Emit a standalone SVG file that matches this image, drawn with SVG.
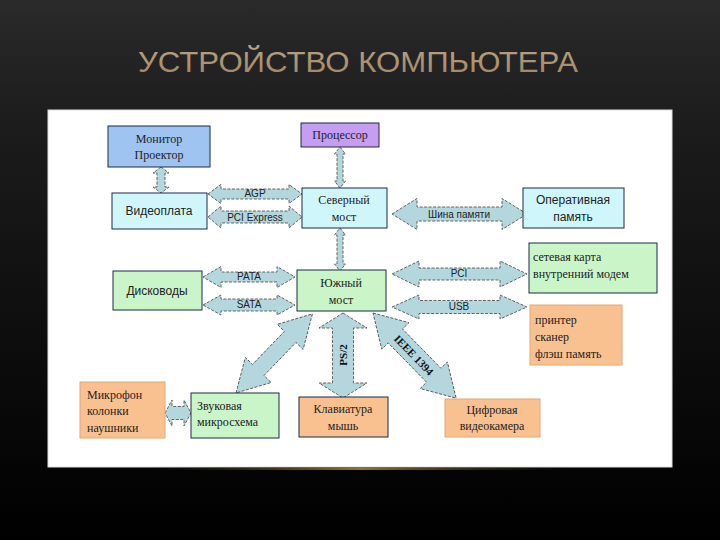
<svg xmlns="http://www.w3.org/2000/svg" width="720" height="540" viewBox="0 0 720 540">
<defs>
<linearGradient id="bg" x1="0" y1="0" x2="0" y2="1">
<stop offset="0" stop-color="#2a2a2a"/>
<stop offset="0.25" stop-color="#1b1b1b"/>
<stop offset="0.85" stop-color="#050505"/>
<stop offset="1" stop-color="#000"/>
</linearGradient>
<linearGradient id="glow" x1="0" y1="0" x2="1" y2="0">
<stop offset="0" stop-color="#3a3320" stop-opacity="0"/>
<stop offset="0.5" stop-color="#8a7430"/>
<stop offset="1" stop-color="#3a3320" stop-opacity="0"/>
</linearGradient>
<linearGradient id="title" x1="0" y1="0" x2="0" y2="1">
<stop offset="0" stop-color="#b9a486"/>
<stop offset="1" stop-color="#a08462"/>
</linearGradient>
</defs>
<style>
.box{stroke:#1d2a44;stroke-width:1}
.blue{fill:#9fc4f2}
.purple{fill:#c59df2}
.cyan{fill:#cff7fb}
.green{fill:#caf5c9}
.orange{fill:#f9c18f}
.soft{stroke:#e0a878}
.t{font-family:"Liberation Serif","DejaVu Serif",serif;font-size:12px;fill:#222}
.s{font-family:"Liberation Sans","DejaVu Sans",sans-serif;font-size:12px;fill:#222}
.arr{fill:#b3d7dd;stroke:#555;stroke-width:0.9;stroke-dasharray:3 1.5}
.al{font-family:"Liberation Sans","DejaVu Sans",sans-serif;font-size:10px;fill:#222;text-anchor:middle}
.bl{font-family:"Liberation Serif","DejaVu Serif",serif;font-size:11px;font-weight:bold;fill:#111;text-anchor:middle}
</style>
<rect width="720" height="540" fill="url(#bg)"/>
<text x="138" y="72" font-family="'Liberation Sans','DejaVu Sans',sans-serif" font-size="29" fill="url(#title)" textLength="440" lengthAdjust="spacingAndGlyphs">УСТРОЙСТВО КОМПЬЮТЕРА</text>
<rect x="48" y="110" width="624" height="357" fill="#fff" stroke="#ddd" stroke-width="1"/>
<rect x="150" y="467" width="420" height="3" fill="url(#glow)"/>

<g id="connectors">
<polygon class="arr" transform="translate(208,194)" points="0,0 13,-9.5 13,-5 81,-5 81,-9.5 94,0 81,9.5 81,5 13,5 13,9.5"/>
<text class="al" x="255" y="197">AGP</text>
<polygon class="arr" transform="translate(208,217)" points="0,0 13,-11 13,-6 81,-6 81,-11 94,0 81,11 81,6 13,6 13,11"/>
<text class="al" x="255" y="221">PCI Express</text>
<polygon class="arr" transform="translate(392,214)" points="0,0 25,-15.5 25,-7 110,-7 110,-15.5 135,0 110,15.5 110,7 25,7 25,15.5"/>
<text class="al" x="459" y="218" font-size="11">Шина памяти</text>
<polygon class="arr" transform="translate(203,277)" points="0,0 18,-10.5 18,-5 74,-5 74,-10.5 92,0 74,10.5 74,5 18,5 18,10.5"/>
<text class="al" x="249" y="280">PATA</text>
<polygon class="arr" transform="translate(203,305)" points="0,0 18,-10 18,-6 74,-6 74,-10 92,0 74,10 74,6 18,6 18,10"/>
<text class="al" x="249" y="308">SATA</text>
<polygon class="arr" transform="translate(392,274)" points="0,0 27,-13 27,-6 108,-6 108,-13 135,0 108,13 108,6 27,6 27,13"/>
<text class="al" x="459" y="277">PCI</text>
<polygon class="arr" transform="translate(392,307)" points="0,0 27,-12 27,-6.5 108,-6.5 108,-12 135,0 108,12 108,6.5 27,6.5 27,12"/>
<text class="al" x="459" y="310">USB</text>
<polygon class="arr" transform="translate(161,167) rotate(90)" points="0,0 6,-8 6,-4 20,-4 20,-8 26,0 20,8 20,4 6,4 6,8"/>
<polygon class="arr" transform="translate(340,147) rotate(90)" points="0,0 7,-5.5 7,-3 34,-3 34,-5.5 41,0 34,5.5 34,3 7,3 7,5.5"/>
<polygon class="arr" transform="translate(340,228) rotate(90)" points="0,0 7,-5.5 7,-3 36,-3 36,-5.5 43,0 36,5.5 36,3 7,3 7,5.5"/>
<polygon class="arr" transform="translate(343,313) rotate(90)" points="0,0 15,-24 15,-10.5 70,-10.5 70,-24 85,0 70,24 70,10.5 15,10.5 15,24"/>
<text class="bl" transform="translate(347,355) rotate(-90)">PS/2</text>
<polygon class="arr" transform="translate(165,413)" points="0,0 7,-13 7,-6.5 19,-6.5 19,-13 26,0 19,13 19,6.5 7,6.5 7,13"/>
<polygon class="arr" transform="translate(236,393) rotate(-46)" points="0,0 32,-18 32,-8 78,-8 78,-18 110,0 78,18 78,8 32,8 32,18"/>
<polygon class="arr" transform="translate(373,313) rotate(45.7)" points="0,0 32,-19 32,-10 87,-10 87,-19 119,0 87,19 87,10 32,10 32,19"/>
<text class="bl" transform="translate(414,355) rotate(45.7)" dy="4">IEEE 1394</text>
</g>

<g id="monitor"><rect class="box blue" x="108" y="126" width="102" height="41"/>
<text class="t" text-anchor="middle" x="159" y="143">Монитор</text><text class="t" text-anchor="middle" x="159" y="159">Проектор</text></g>
<g id="cpu"><rect class="box purple" x="301" y="123" width="78" height="24"/>
<text class="t" text-anchor="middle" x="340" y="139">Процессор</text></g>
<g id="video"><rect class="box cyan" x="112" y="193" width="95" height="36"/>
<text class="s" text-anchor="middle" x="159" y="215">Видеоплата</text></g>
<g id="north"><rect class="box cyan" x="302" y="188" width="85" height="40"/>
<text class="t" text-anchor="middle" x="344" y="204">Северный</text><text class="t" text-anchor="middle" x="344" y="221">мост</text></g>
<g id="ram"><rect class="box cyan" x="523" y="188" width="101" height="40"/>
<text class="s" text-anchor="middle" x="573" y="204">Оперативная</text><text class="s" text-anchor="middle" x="573" y="221">память</text></g>
<g id="disk"><rect class="box green" x="113" y="271" width="89" height="39"/>
<text class="s" text-anchor="middle" x="157" y="295">Дисководы</text></g>
<g id="south"><rect class="box green" x="297" y="270" width="89" height="41"/>
<text class="t" text-anchor="middle" x="341" y="287">Южный</text><text class="t" text-anchor="middle" x="341" y="304">мост</text></g>
<g id="net"><rect class="box green" x="529" y="243" width="128" height="50"/>
<text class="t" x="533" y="261">сетевая карта</text><text class="t" x="533" y="278">внутренний модем</text></g>
<g id="printer"><rect class="orange soft" x="530" y="305" width="92" height="60"/>
<text class="t" x="535" y="324">принтер</text><text class="t" x="535" y="341">сканер</text><text class="t" x="535" y="358">флэш память</text></g>
<g id="mic"><rect class="orange soft" x="80" y="382" width="85" height="56"/>
<text class="t" x="87" y="399">Микрофон</text><text class="t" x="87" y="415">колонки</text><text class="t" x="87" y="432">наушники</text></g>
<g id="sound"><rect class="box green" x="191" y="393" width="88" height="45"/>
<text class="t" x="197" y="410">Звуковая</text><text class="t" x="197" y="426">микросхема</text></g>
<g id="keyboard"><rect class="box orange" x="299" y="397" width="89" height="40"/>
<text class="t" text-anchor="middle" x="343" y="413">Клавиатура</text><text class="t" text-anchor="middle" x="343" y="430">мышь</text></g>
<g id="camera"><rect class="orange soft" x="445" y="399" width="95" height="38"/>
<text class="t" text-anchor="middle" x="492" y="414">Цифровая</text><text class="t" text-anchor="middle" x="492" y="430">видеокамера</text></g>
</svg>
